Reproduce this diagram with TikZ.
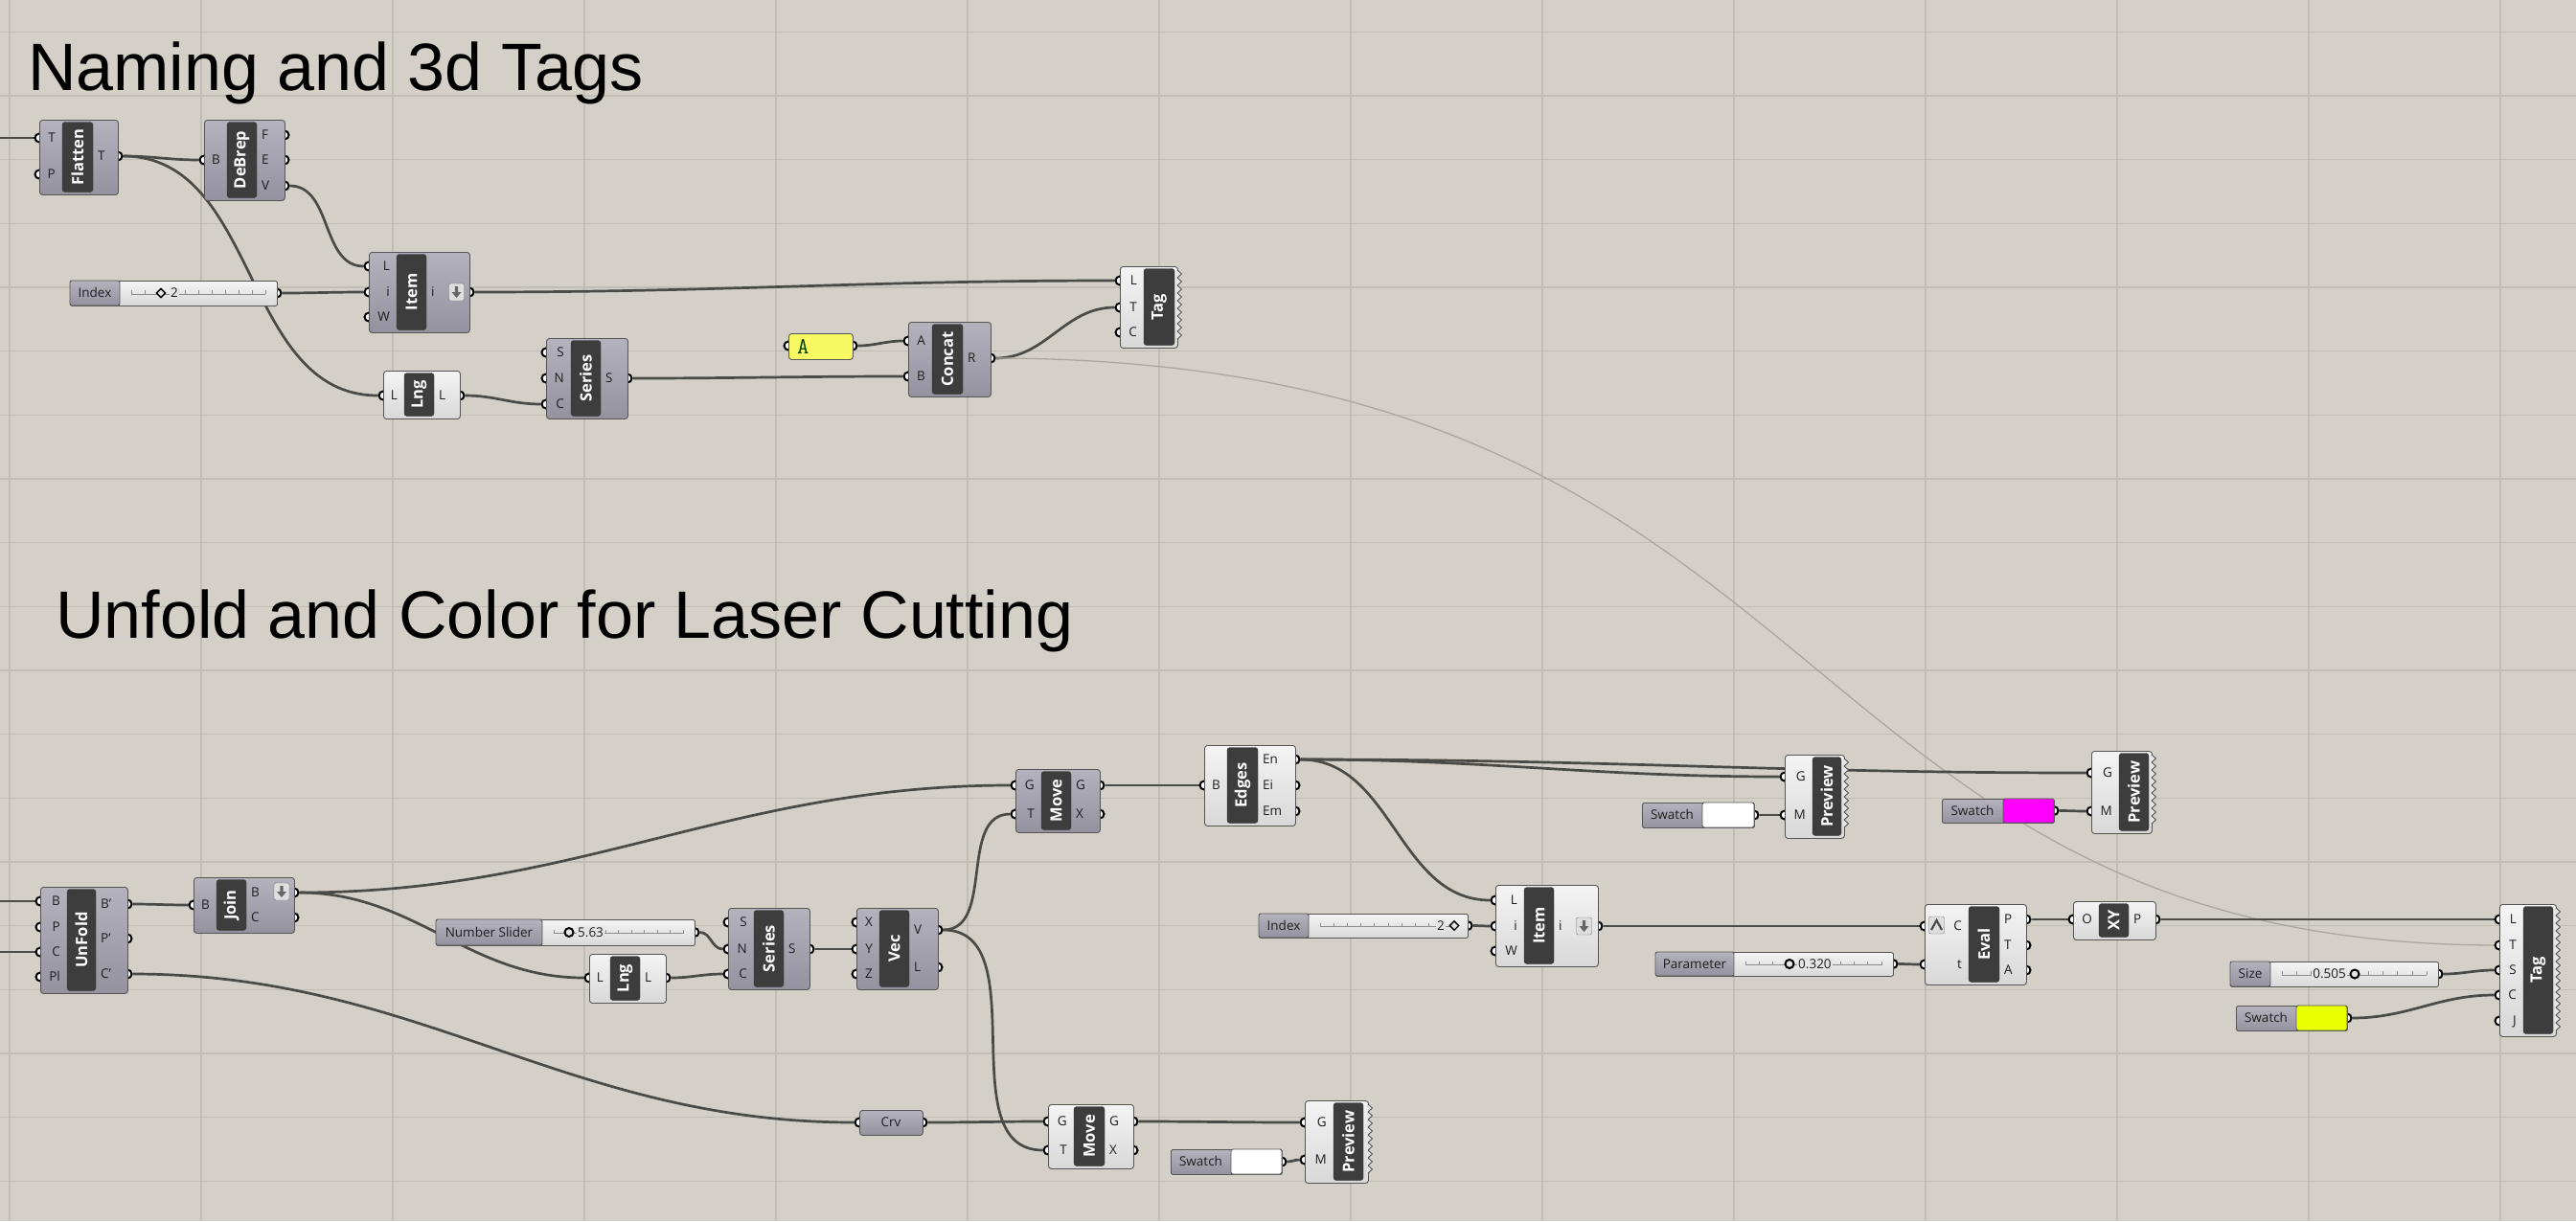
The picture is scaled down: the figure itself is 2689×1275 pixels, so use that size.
\documentclass[tikz,border=0pt]{standalone}
\usepackage{fontspec}
\setmainfont{Open Sans}
\newfontfamily\titlefont{Liberation Sans}
\usetikzlibrary{shapes.geometric}

\definecolor{bgc}{HTML}{D4D0C8}
\definecolor{gridc}{HTML}{C1BDB5}
\definecolor{wirec}{HTML}{4A4A46}
\definecolor{faintc}{HTML}{ABA79F}
\definecolor{gtop}{HTML}{B3B2BD}
\definecolor{gbot}{HTML}{94929F}
\definecolor{ltop}{HTML}{F4F4F4}
\definecolor{lbot}{HTML}{D8D8D8}
\definecolor{lmid}{HTML}{E5E5E5}
\definecolor{edgec}{HTML}{555555}
\definecolor{panelc}{HTML}{3D3D3D}
\definecolor{textc}{HTML}{1E1E1E}
\definecolor{tickc}{HTML}{8C8C8C}
\definecolor{pnlyel}{HTML}{F8F862}
\definecolor{swmag}{HTML}{FF00FF}
\definecolor{swyel}{HTML}{EAFF00}

\pgfdeclarelayer{grid}
\pgfdeclarelayer{wires}
\pgfdeclarelayer{grips}
\pgfsetlayers{grid,wires,grips,main}

\tikzset{
  gcomp/.style={draw=edgec, line width=0.9pt, rounded corners=3pt, top color=gtop, bottom color=gbot, inner sep=0pt},
  lcomp/.style={draw=edgec, line width=0.9pt, rounded corners=3pt, top color=ltop, bottom color=lbot, inner sep=0pt},
  cedge/.style={draw=edgec, line width=0.9pt, line join=round},
  panel/.style={draw=black!80, fill=panelc, rounded corners=3pt, text=white, inner sep=0pt,
    font=\fontsize{16.5}{18}\selectfont\bfseries},
  grip/.style={circle, draw=black, fill=white, line width=2pt, minimum size=9pt, inner sep=0pt},
  plab/.style={text=textc, font=\fontsize{13.5}{15}\selectfont, inner sep=0pt, text height=11pt, text depth=1.5pt},
  slval/.style={plab, fill=lmid, inner xsep=1pt},
  sldia/.style={diamond, draw=black, line width=1.4pt, fill=lmid, minimum size=10pt, inner sep=0pt},
  slknob/.style={circle, draw=black, line width=2pt, fill=lmid, minimum size=9pt, inner sep=0pt},
  sltick/.style={draw=tickc, line width=0.8pt},
  btn/.style={draw=black!55, fill=black!13, rounded corners=2pt, minimum width=16pt, minimum height=18pt, inner sep=0pt},
  wire/.style={draw=wirec, line width=2.7pt, out=0, in=180},
  faint/.style={draw=faintc, line width=1.3pt},
  gridl/.style={draw=gridc, line width=1.2pt},
  title/.style={anchor=base west, inner sep=0pt, font=\titlefont\fontsize{70}{80}\selectfont}
}

% component: name, style, x1, y1, x2, y2, panel left, panel right, label
\newcommand{\ghc}[9]{%
  \def\cxl{#3}\def\cxr{#5}\def\cpl{#7}\def\cpr{#8}%
  \node[#2, anchor=north west, minimum width=#5-#3, minimum height=#6-#4] (#1) at (#3,#4) {};
  \node[panel, rotate=90, minimum width=#6-#4-5, minimum height=#8-#7] (#1-n) at ({(#7+#8)/2},{(#4+#6)/2}) {#9};
}
\newcommand{\ghin}[3]{%
  \begin{pgfonlayer}{grips}\node[grip] (#1) at (\cxl,#2) {};\end{pgfonlayer}
  \node[plab, anchor=east] (#1-t) at (\cpl-7,#2) {#3};
}
\newcommand{\ghout}[3]{%
  \begin{pgfonlayer}{grips}\node[grip] (#1) at (\cxr,#2) {};\end{pgfonlayer}
  \node[plab, anchor=west] (#1-t) at (\cpr+5,#2) {#3};
}
% saw edge of components without outputs: x, ytop, ybottom
\newcommand{\ghteeth}[3]{%
  \pgfmathtruncatemacro\nt{(#3-#2)/8-1}
  \fill[lmid] (#1-1.5,#2) -- (#1,#2) \foreach \k in {0,...,\nt}{ -- (#1+4.5,#2+4+8*\k) -- (#1,#2+8+8*\k)} -- (#1-1.5,#2+8+8*\nt) -- cycle;
  \draw[cedge] (#1,#2) \foreach \k in {0,...,\nt}{ -- (#1+4.5,#2+4+8*\k) -- (#1,#2+8+8*\k)};
}
% slider: name, x1, y1, x2, y2, split, label
\newcommand{\ghslider}[7]{%
  \node[lcomp, rounded corners=2pt, anchor=north west, minimum width=#4-#2, minimum height=#5-#3] (#1) at (#2,#3) {};
  \draw[gcomp, rounded corners=2pt] (#2,#3) rectangle (#6,#5);
  \node[plab] (#1-t) at ({(#2+#6)/2},{(#3+#5)/2}) {#7};
  \draw[sltick] (#6+12,{(#3+#5)/2+1}) -- (#4-12,{(#3+#5)/2+1});
  \foreach \k in {0,...,10}
    \draw[sltick] ({#6+12+\k*(#4-#6-24)/10},{(#3+#5)/2+1}) -- ++(0,-4);
  \begin{pgfonlayer}{grips}\node[grip] (#1-o) at (#4,{(#3+#5)/2}) {};\end{pgfonlayer}
}
% swatch: name, x1, y1, x2, y2, split, colour
\newcommand{\ghswatch}[7]{%
  \node[gcomp, rounded corners=2pt, anchor=north west, minimum width=#4-#2, minimum height=#5-#3] (#1) at (#2,#3) {};
  \draw[cedge, fill=#7, rounded corners=2pt] (#6,#3) rectangle (#4,#5);
  \node[plab] (#1-t) at ({(#2+#6)/2},{(#3+#5)/2}) {Swatch};
  \begin{pgfonlayer}{grips}\node[grip] (#1-o) at (#4,{(#3+#5)/2}) {};\end{pgfonlayer}
}
% list access toggle
\newcommand{\ghbtn}[3]{%
  \node[btn] (#1) at (#2,#3) {};
  \fill[black!60] (#2-1.7,#3-6) -- (#2+1.7,#3-6) -- (#2+1.7,#3) -- (#2+5,#3) -- (#2,#3+6)
    -- (#2-5,#3) -- (#2-1.7,#3) -- cycle;
}

\begin{document}
\begin{tikzpicture}[x=1pt, y=-1pt]
\useasboundingbox (0,0) rectangle (2689,1275);
\begin{pgfonlayer}{grid}
  \fill[bgc] (0,0) rectangle (2689,1275);
  \foreach \x in {10,210,...,2610} \draw[gridl] (\x,0) -- (\x,1275);
  \foreach \k in {0,...,18} \draw[gridl] (0,{33.33+66.67*\k}) -- (2689,{33.33+66.67*\k});
\end{pgfonlayer}

\node[title] (title1) at (29,94) {Naming and 3d Tags};
\node[title] (title2) at (58,666) {Unfold and Color for Laser Cutting};

% --- naming and 3d tags
\coordinate (lftA) at (0,144);
\ghc{flat}{gcomp}{41}{125}{123}{203}{65}{97}{Flatten}
\ghin{flat-T}{144}{T} \ghin{flat-P}{182}{P} \ghout{flat-To}{163}{T}

\ghc{debrep}{gcomp}{213}{125}{297}{209}{237}{268}{DeBrep}
\ghin{debrep-B}{167}{B}
\ghout{debrep-F}{141}{F} \ghout{debrep-E}{167}{E} \ghout{debrep-V}{194}{V}

\ghslider{idx1}{73}{293}{289}{319}{125}{Index}
\node[sldia] (idx1-k) at (168,306) {};
\node[slval, anchor=west] (idx1-v) at (177,306) {2};

\ghc{item1}{gcomp}{385}{263}{490}{347}{414}{445}{Item}
\ghin{item1-L}{278}{L} \ghin{item1-i}{305}{i} \ghin{item1-W}{331}{W}
\ghout{item1-o}{305}{i}
\ghbtn{item1-b}{476.5}{305}

\ghc{lng1}{lcomp}{400}{387}{480}{437}{422}{453}{Lng}
\ghin{lng1-i}{413}{L} \ghout{lng1-o}{413}{L}

\ghc{ser1}{gcomp}{570}{353}{655}{437}{596}{627}{Series}
\ghin{ser1-S}{368}{S} \ghin{ser1-N}{395}{N} \ghin{ser1-C}{422}{C}
\ghout{ser1-o}{395}{S}

\node[draw=black!65, line width=0.9pt, fill=pnlyel, rounded corners=3pt, anchor=north west,
  minimum width=67pt, minimum height=27pt] (pnlA) at (823,348) {};
\node[anchor=west, inner sep=0pt, text=black!60!green!60!black, font=\ttfamily\fontsize{24}{26}\selectfont] (pnlA-t) at (832,362) {A};
\begin{pgfonlayer}{grips}
  \node[grip] (pnlA-i) at (823,361) {};
  \node[grip] (pnlA-o) at (890,361) {};
\end{pgfonlayer}

\ghc{concat}{gcomp}{948}{336}{1034}{414}{973}{1005}{Concat}
\ghin{concat-A}{356}{A} \ghin{concat-B}{393}{B} \ghout{concat-R}{374}{R}

\ghc{tag1}{lcomp}{1169}{278}{1229}{363}{1194}{1226}{Tag}
\ghin{tag1-L}{293}{L} \ghin{tag1-T}{321}{T} \ghin{tag1-C}{347}{C}
\ghteeth{1229}{282}{359}

% --- unfold and color
\coordinate (lftB) at (0,941);
\coordinate (lftC) at (0,994);
\ghc{unf}{gcomp}{42}{926}{133}{1037}{70}{100}{UnFold}
\ghin{unf-B}{941}{B} \ghin{unf-P}{968}{P} \ghin{unf-C}{994}{C} \ghin{unf-Pl}{1020}{Pl}
\ghout{unf-Bo}{944}{B'} \ghout{unf-Po}{980}{P'} \ghout{unf-Co}{1017}{C'}

\ghc{join}{gcomp}{202}{916}{307}{974}{226}{257}{Join}
\ghin{join-B}{945}{B} \ghout{join-Bo}{932}{B} \ghout{join-C}{958}{C}
\ghbtn{join-b}{294}{931}

\ghslider{nsl}{455}{960}{725}{987}{566}{Number Slider}
\node[slknob] (nsl-k) at (594,973.5) {};
\node[slval, anchor=west] (nsl-v) at (602,973.5) {5.63};

\ghc{lng2}{lcomp}{615}{996}{695}{1047}{637}{668}{Lng}
\ghin{lng2-i}{1021}{L} \ghout{lng2-o}{1021}{L}

\ghc{ser2}{gcomp}{760}{948}{845}{1033}{787}{818}{Series}
\ghin{ser2-S}{963}{S} \ghin{ser2-N}{991}{N} \ghin{ser2-C}{1017}{C}
\ghout{ser2-o}{991}{S}

\ghc{vec}{gcomp}{894}{948}{979}{1033}{918}{949}{Vec}
\ghin{vec-X}{963}{X} \ghin{vec-Y}{991}{Y} \ghin{vec-Z}{1017}{Z}
\ghout{vec-V}{971}{V} \ghout{vec-L}{1010}{L}

\ghc{move1}{gcomp}{1060}{803}{1148}{869}{1087}{1118}{Move}
\ghin{move1-G}{820}{G} \ghin{move1-T}{850}{T}
\ghout{move1-Go}{820}{G} \ghout{move1-X}{850}{X}

\ghc{edges}{lcomp}{1257}{778}{1352}{862}{1281}{1313}{Edges}
\ghin{edges-B}{820}{B}
\ghout{edges-En}{793}{En} \ghout{edges-Ei}{820}{Ei} \ghout{edges-Em}{847}{Em}

\ghswatch{sw1}{1714}{838}{1831}{864}{1777}{white}
\ghc{prev1}{lcomp}{1863}{788}{1925}{875}{1892}{1922}{Preview}
\ghin{prev1-G}{811}{G} \ghin{prev1-M}{851}{M}
\ghteeth{1925}{792}{871}

\ghslider{idx2}{1314}{954}{1532}{979}{1366}{Index}
\node[sldia] (idx2-k) at (1518,966.5) {};
\node[slval, anchor=east] (idx2-v) at (1509,966.5) {2};

\ghc{item2}{lcomp}{1561}{924}{1668}{1009}{1591}{1622}{Item}
\ghin{item2-L}{940}{L} \ghin{item2-i}{967}{i} \ghin{item2-W}{993}{W}
\ghout{item2-o}{967}{i}
\ghbtn{item2-b}{1653.5}{967}

\ghslider{par}{1728}{994}{1976}{1019}{1810}{Parameter}
\node[slknob] (par-k) at (1868,1006.5) {};
\node[slval, anchor=west] (par-v) at (1876,1006.5) {0.320};

\ghc{eval}{lcomp}{2009}{944}{2115}{1028}{2055}{2087}{Eval}
\ghin{eval-C}{967}{C} \ghin{eval-t}{1007}{t}
\ghout{eval-P}{960}{P} \ghout{eval-T}{987}{T} \ghout{eval-A}{1013}{A}
\node[btn] (eval-b) at (2021.5,966) {};
\draw[black!70, line width=2.2pt] (2016,971) -- (2021.5,961) -- (2027,971);

\ghc{xy}{lcomp}{2164}{941}{2250}{981}{2191}{2222}{XY}
\ghin{xy-O}{960}{O} \ghout{xy-P}{960}{P}

\ghswatch{sw2}{2027}{834}{2144}{859}{2091}{swmag}
\ghc{prev2}{lcomp}{2183}{784}{2246}{870}{2212}{2243}{Preview}
\ghin{prev2-G}{807}{G} \ghin{prev2-M}{847}{M}
\ghteeth{2246}{788}{866}

\ghc{tag2}{lcomp}{2609}{944}{2668}{1082}{2634}{2665}{Tag}
\ghin{tag2-L}{960}{L} \ghin{tag2-T}{987}{T} \ghin{tag2-S}{1013}{S}
\ghin{tag2-C}{1039}{C} \ghin{tag2-J}{1066}{J}
\ghteeth{2668}{948}{1078}

\ghslider{size}{2328}{1004}{2545}{1030}{2370}{Size}
\node[slknob] (size-k) at (2458,1017) {};
\node[slval, anchor=east] (size-v) at (2450,1017) {0.505};

\ghswatch{sw3}{2334}{1050}{2450}{1076}{2397}{swyel}

\node[gcomp, rounded corners=3pt, anchor=north west, minimum width=66pt, minimum height=26pt] (crv) at (897,1159) {};
\node[plab] (crv-t) at (930,1172) {Crv};
\begin{pgfonlayer}{grips}
  \node[grip] (crv-i) at (897,1172) {};
  \node[grip] (crv-o) at (963,1172) {};
\end{pgfonlayer}

\ghc{move2}{lcomp}{1094}{1153}{1183}{1220}{1121}{1153}{Move}
\ghin{move2-G}{1171}{G} \ghin{move2-T}{1201}{T}
\ghout{move2-Go}{1171}{G} \ghout{move2-X}{1201}{X}

\ghswatch{sw4}{1222}{1200}{1338}{1226}{1285}{white}
\ghc{prev3}{lcomp}{1362}{1149}{1428}{1235}{1392}{1423}{Preview}
\ghin{prev3-G}{1172}{G} \ghin{prev3-M}{1211}{M}
\ghteeth{1428}{1153}{1231}

% wires
\begin{pgfonlayer}{wires}
  \draw[wire] (lftA) -- (flat-T);
  \draw[wire] (flat-To) to (debrep-B);
  \draw[wire] (flat-To) to (lng1-i);
  \draw[wire] (debrep-V) to (item1-L);
  \draw[wire] (idx1-o) to (item1-i);
  \draw[wire] (item1-o) to (tag1-L);
  \draw[wire] (lng1-o) to (ser1-C);
  \draw[wire] (ser1-o) to (concat-B);
  \draw[wire] (pnlA-o) to (concat-A);
  \draw[wire] (concat-R) to (tag1-T);
  \draw[faint] (concat-R.center) .. controls +(900,0) and +(-760,0) .. (tag2-T.center);

  \draw[wire] (lftB) -- (unf-B);
  \draw[wire] (lftC) -- (unf-C);
  \draw[wire] (unf-Bo) to (join-B);
  \draw[wire] (unf-Co) to (crv-i);
  \draw[wire] (join-Bo) to (move1-G);
  \draw[wire] (join-Bo) to (lng2-i);
  \draw[wire] (nsl-o) to (ser2-N);
  \draw[wire] (lng2-o) to (ser2-C);
  \draw[wire] (ser2-o) to (vec-Y);
  \draw[wire] (vec-V) to (move1-T);
  \draw[wire] (vec-V) to (move2-T);
  \draw[wire] (crv-o) to (move2-G);
  \draw[wire] (move2-Go) to (prev3-G);
  \draw[wire] (sw4-o) to (prev3-M);
  \draw[wire] (move1-Go) to (edges-B);
  \draw[wire] (edges-En) to (prev1-G);
  \draw[wire] (edges-En) to (prev2-G);
  \draw[wire] (edges-En) to (item2-L);
  \draw[wire] (idx2-o) to (item2-i);
  \draw[wire] (sw1-o) to (prev1-M);
  \draw[wire] (item2-o) to (eval-C);
  \draw[wire] (par-o) to (eval-t);
  \draw[wire] (eval-P) to (xy-O);
  \draw[wire] (xy-P) to (tag2-L);
  \draw[wire] (sw2-o) to (prev2-M);
  \draw[wire] (size-o) to (tag2-S);
  \draw[wire] (sw3-o) to (tag2-C);
\end{pgfonlayer}
\end{tikzpicture}
\end{document}
